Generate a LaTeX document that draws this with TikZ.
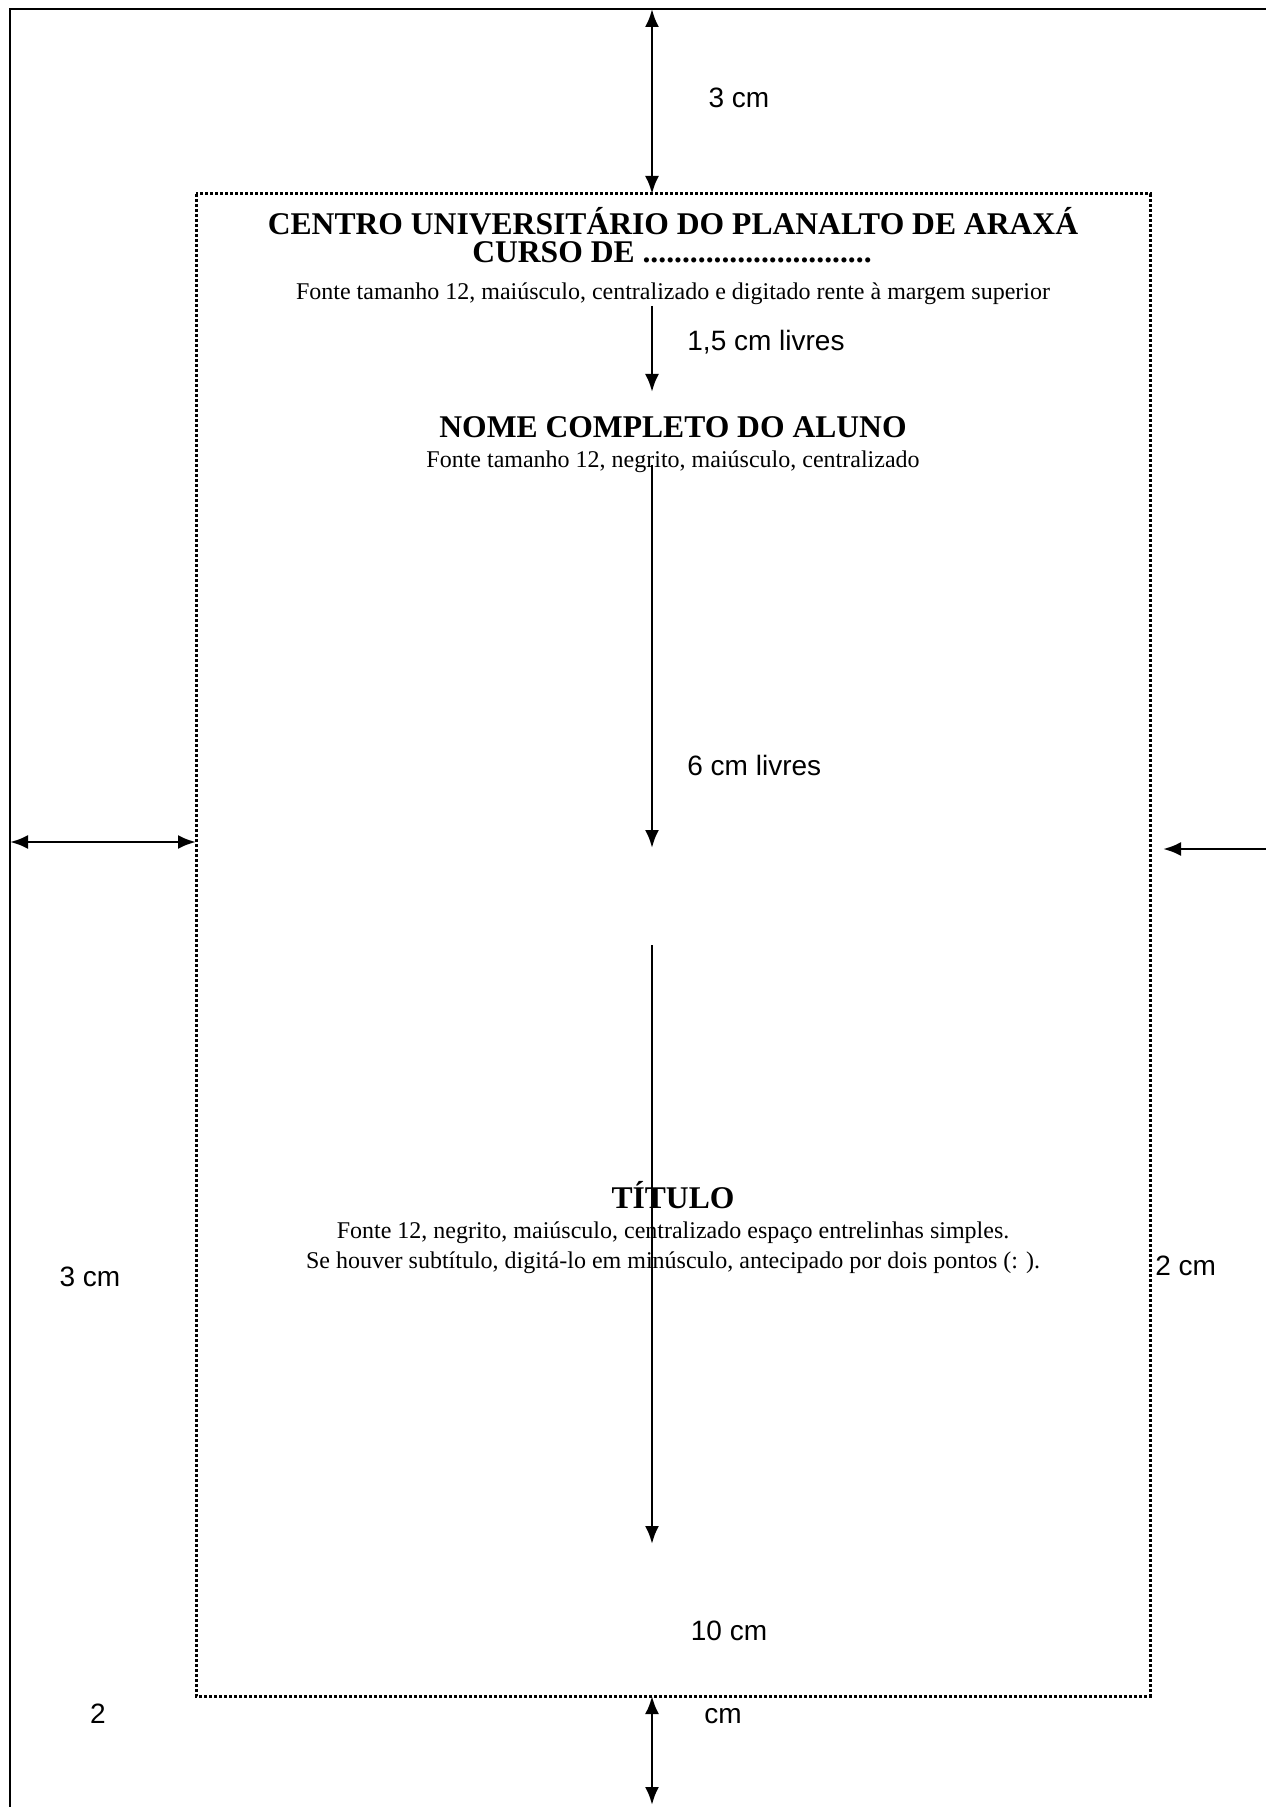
\documentclass[tikz,border=0pt]{standalone}
\usepackage{fontspec}
\setmainfont{Liberation Serif}
\setsansfont{Liberation Sans}
\usetikzlibrary{arrows.meta}
\begin{document}
\begin{tikzpicture}
		[x=0.5pt,y=-0.5pt,
		seta/.style={line width=1.4pt,-{Latex[length=9pt,width=7pt]}},
		setadupla/.style={line width=1.4pt,{Latex[length=9pt,width=7pt]}-{Latex[length=9pt,width=7pt]}},
		mancha/.style={line width=1.5pt,dash pattern=on 1.5pt off 1pt},
		medida/.style={font=\sffamily\fontsize{14}{16}\selectfont,inner sep=0pt,anchor=base},
		titulo/.style={font=\bfseries\fontsize{15.8}{18}\selectfont,inner sep=0pt,anchor=base},
		nota/.style={font=\fontsize{12}{14}\selectfont,inner sep=0pt,anchor=base}]
		\useasboundingbox (0,0) rectangle (1265,1807);
		\draw[line width=1.3pt] (10,1830) -- (10,9) -- (1290,9);
		\draw[mancha] (196,194) rectangle (1150,1696);
		\coordinate (topo) at (652,9);
		\coordinate (mancha topo) at (652,194);
		\coordinate (mancha base) at (652,1696);
		\coordinate (base) at (652,1805);
		\coordinate (esq) at (10,842);
		\coordinate (mancha esq) at (196,842);
		\coordinate (dir) at (1290,849);
		\coordinate (mancha dir) at (1163,849);
		\node[titulo] (centro) at (673,235) {CENTRO UNIVERSITÁRIO DO PLANALTO DE ARAXÁ};
		\node[titulo] (curso) at (672,263) {CURSO DE .............................};
		\node[nota] (fonte cabecalho) at (673,300) {Fonte tamanho 12, maiúsculo, centralizado e digitado rente à margem superior};
		\coordinate (livre1 ini) at (652,306);
		\coordinate (livre1 fim) at (652,392);
		\node[medida,anchor=base west] (livre1) at (687,351) {1,5 cm livres};
		\node[titulo] (nome) at (673,438) {NOME COMPLETO DO ALUNO};
		\node[nota] (fonte nome) at (673,468) {Fonte tamanho 12, negrito, maiúsculo, centralizado};
		\coordinate (livre6 ini) at (652,465);
		\coordinate (livre6 fim) at (652,848);
		\node[medida,anchor=base west] (livre6) at (687,775) {6 cm livres};
		\coordinate (livre10 ini) at (652,945);
		\coordinate (livre10 fim) at (652,1544);
		\node[titulo] (titulo) at (673,1208) {TÍTULO};
		\node[nota] (fonte titulo) at (673,1238) {Fonte 12, negrito, maiúsculo, centralizado espaço entrelinhas simples.};
		\node[nota] (subtitulo) at (673,1268) {Se houver subtítulo, digitá-lo em minúsculo, antecipado por dois pontos (: ).};
		\node[medida] (sup) at (739,108) {3 cm};
		\node[medida] (esq med) at (90,1286) {3 cm};
		\node[medida,anchor=base west] (dir med) at (1155,1275) {2 cm};
		\node[medida] (dez) at (729,1640) {10 cm};
		\node[medida] (inf num) at (98,1723) {2};
		\node[medida] (inf cm) at (723,1723) {cm};
		\draw[setadupla] (topo) -- (mancha topo);
		\draw[seta] (livre1 ini) -- (livre1 fim);
		\draw[seta] (livre6 ini) -- (livre6 fim);
		\draw[seta] (livre10 ini) -- (livre10 fim);
		\draw[setadupla] (esq) -- (mancha esq);
		\draw[seta] (dir) -- (mancha dir);
		\draw[setadupla] (mancha base) -- (base);
	\end{tikzpicture}
\end{document}
